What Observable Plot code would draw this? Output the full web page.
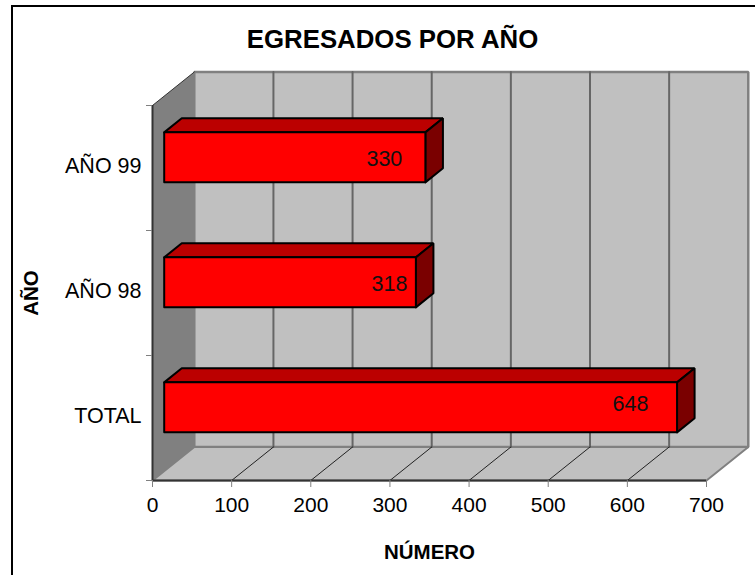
<!DOCTYPE html>
<html lang="es">
<head>
<meta charset="utf-8">
<script src="https://cdn.jsdelivr.net/npm/d3@7"></script>
<script src="https://cdn.jsdelivr.net/npm/@observablehq/plot@0.6"></script>
<style>
  html, body { margin: 0; padding: 0; background: #fff; overflow: hidden; }
  #page { position: relative; width: 755px; height: 575px; overflow: hidden; }
  #border { position: absolute; left: 11px; top: 5px; width: 800px; height: 620px; border: 2px solid #000; }
  #chart { position: absolute; left: 0; top: 0; }
  #chart svg { display: block; background: transparent !important; }
</style>
</head>
<body>
<div id="page"><div id="border"></div><div id="chart"></div></div>
<script>
const titleText = "EGRESADOS POR AÑO";
const xTitle = "NÚMERO";
const yTitle = "AÑO";
const categories = ["TOTAL", "AÑO 98", "AÑO 99"];
const values = [648, 318, 330];
const xTicks = [0, 100, 200, 300, 400, 500, 600, 700];
const yEdges = [0, 1, 2, 3];
const yCentres = [0.5, 1.5, 2.5];

// Oblique projection of the pseudo-3D box, in data units of each scale
const depthX = 52.8, depthY = 0.268;
const xMax = 700, yMax = 3;
const barFront = 0.28, barBack = 0.7, barLow = 0.31, barHigh = 0.71;
const labelX = [604, 299.5, 293];
const labelY = [0.608, 1.568, 2.568];

const pt = (v, c, d) => ({x: v + d * depthX, y: c + d * depthY});
const poly = (...corners) => [...corners, corners[0]].map(([v, c, d]) => pt(v, c, d));
const face = (points, fill, stroke, strokeWidth) =>
  Plot.line(points, {x: "x", y: "y", fill, stroke, strokeWidth, strokeLinejoin: "miter", curve: "linear"});

const walls = [
  face(poly([0,0,0],[0,yMax,0],[0,yMax,1],[0,0,1]), "#808080", "none", 0),
  face(poly([0,0,1],[0,yMax,1],[xMax,yMax,1],[xMax,0,1]), "#c0c0c0", "#808080", 2.5),
  face(poly([0,0,0],[0,0,1],[xMax,0,1],[xMax,0,0]), "#c0c0c0", "#808080", 2),
  face([pt(0,yMax,0), pt(0,yMax,1)], "none", "#333", 1)
];
const backGrid = xTicks.slice(1, -1).map(t =>
  face([pt(t,0,1), pt(t,yMax,1)], "none", "#666", 2));
const floorGrid = xTicks.slice(1, -1).map(t =>
  face([pt(t,0,0), pt(t,0,1)], "none", "#222", 1));

const bars = values.flatMap((v, i) => {
  const lo = i + barLow, hi = i + barHigh;
  return [
    face(poly([0,hi,barFront],[0,hi,barBack],[v,hi,barBack],[v,hi,barFront]), "#bb0000", "#000", 2),
    face(poly([v,lo,barFront],[v,hi,barFront],[v,hi,barBack],[v,lo,barBack]), "#7a0000", "#000", 2),
    face(poly([0,lo,barFront],[0,hi,barFront],[v,hi,barFront],[v,lo,barFront]), "#ff0000", "#000", 2)
  ];
});

const plot = Plot.plot({
  width: 755,
  height: 575,
  marginLeft: 152,
  marginRight: 49,
  marginTop: 105,
  marginBottom: 95,
  style: {fontFamily: "'Liberation Sans', Arial, sans-serif", background: "transparent", color: "#000"},
  x: {domain: [0, xMax], range: [152, 706]},
  y: {type: "linear", domain: [0, yMax], range: [480, 105]},
  marks: [
    ...walls,
    ...backGrid,
    ...floorGrid,
    Plot.ruleX([0], {y1: 0, y2: yMax, stroke: "#333", strokeWidth: 2}),
    Plot.ruleY([0], {x1: 0, x2: xMax, stroke: "#333", strokeWidth: 2}),
    ...bars,
    Plot.text(values, {
      x: (d, i) => labelX[i], y: (d, i) => labelY[i], text: d => String(d),
      fontSize: 21.5, fill: "#111", textAnchor: "middle", lineAnchor: "middle"
    }),
    Plot.axisX({
      ticks: xTicks, tickSize: 7, tickPadding: 10, stroke: "#808080", fontSize: 21,
      tickFormat: d3.format("d"), label: xTitle, labelAnchor: "center", labelArrow: "none", labelOffset: 78
    }),
    Plot.axisY({ticks: yEdges, tickSize: 6, stroke: "#808080", tickFormat: null, text: null, label: null}),
    Plot.axisY({
      ticks: yCentres, tickSize: 0, tickPadding: 11, fontSize: 21.5, dy: -2,
      tickFormat: d => categories[d - 0.5], label: yTitle, labelAnchor: "center", labelArrow: "none", labelOffset: 129
    }),
    Plot.text([titleText], {frameAnchor: "top", dx: -37, dy: -76, fontSize: 25.8, fontWeight: "bold", fill: "#000"})
  ]
});
d3.select(plot).selectAll("g[aria-label='x-axis label'] text, g[aria-label='y-axis label'] text")
  .attr("font-size", 20.5).attr("font-weight", "bold");
document.getElementById("chart").appendChild(plot);
</script>
</body>
</html>
